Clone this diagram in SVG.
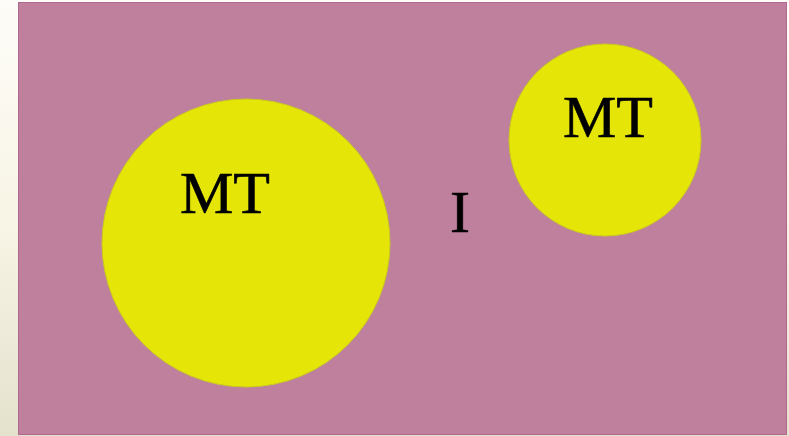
<svg xmlns="http://www.w3.org/2000/svg" width="789" height="436" viewBox="0 0 789 436">
  <defs>
    <linearGradient id="bg" x1="0" y1="0" x2="0" y2="1">
      <stop offset="0" stop-color="#fdfcf8"/>
      <stop offset="0.5" stop-color="#f8f5e6"/>
      <stop offset="0.8" stop-color="#ece9d8"/>
      <stop offset="1" stop-color="#e4e1cc"/>
    </linearGradient>
    <style>
      .cell { fill: #e5e607; stroke: #c9c820; stroke-width: 1; }
      .lbl { font-family: "Liberation Serif", "Times New Roman", serif; font-size: 60px; fill: #000; stroke: #000; stroke-width: 0.6; text-anchor: middle; }
    </style>
  </defs>
  <rect x="0" y="0" width="789" height="436" fill="url(#bg)"/>
  <g id="region">
    <rect x="18.5" y="2.5" width="768" height="432" fill="#bf809e" stroke="#b06890" stroke-width="1"/>
    <text class="lbl" x="460" y="232">I</text>
  </g>
  <g id="mt-large">
    <circle class="cell" cx="246" cy="243" r="144"/>
    <text class="lbl" x="225" y="213">MT</text>
  </g>
  <g id="mt-small">
    <circle class="cell" cx="605" cy="140" r="96"/>
    <text class="lbl" x="608" y="137">MT</text>
  </g>
  <g id="connectors"/>
</svg>
